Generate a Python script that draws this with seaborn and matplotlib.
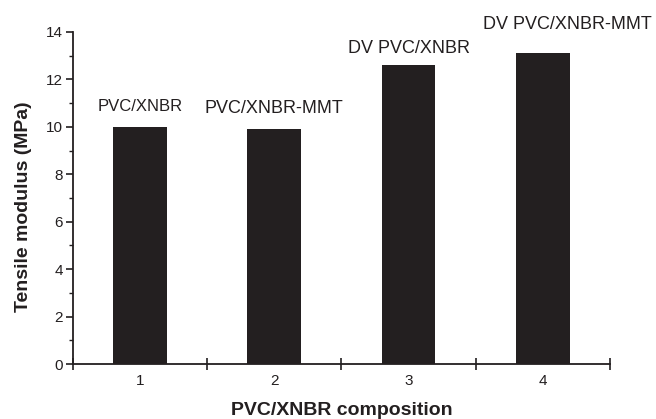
import matplotlib
matplotlib.use("Agg")
import matplotlib.pyplot as plt
import seaborn as sns
import pandas as pd
from matplotlib.ticker import FixedLocator, NullFormatter, MultipleLocator

compositions = ["1", "2", "3", "4"]
modulus = [10.0, 9.9, 12.6, 13.1]
bar_labels = ["PVC/XNBR", "PVC/XNBR-MMT", "DV PVC/XNBR", "DV PVC/XNBR-MMT"]

df = pd.DataFrame({"composition": compositions, "modulus": modulus})

sns.set_style("ticks")
plt.rcParams["font.family"] = ["Liberation Sans", "DejaVu Sans"]
ink = "#231f20"

fig = plt.figure(figsize=(6.56, 4.19), dpi=100)
ax = fig.add_axes([0.111, 0.131, 0.819, 0.793])

sns.barplot(data=df, x="composition", y="modulus", color=ink, width=0.4,
            saturation=1, ax=ax, edgecolor="none")

ax.set_xlim(-0.5, 3.5)
ax.set_ylim(0, 14)

ax.xaxis.set_major_locator(FixedLocator([-0.5, 0.5, 1.5, 2.5, 3.5]))
ax.xaxis.set_major_formatter(NullFormatter())
ax.xaxis.set_minor_locator(FixedLocator([0, 1, 2, 3]))
ax.set_xticklabels(compositions, minor=True)
ax.tick_params(axis="x", which="major", direction="inout", length=8, width=1.2, color=ink)
ax.tick_params(axis="x", which="minor", length=0, pad=7, labelsize=11, labelcolor=ink)

ax.yaxis.set_major_locator(MultipleLocator(2))
ax.yaxis.set_minor_locator(MultipleLocator(1))
ax.tick_params(axis="y", which="major", direction="out", length=5, width=1.2, color=ink,
               labelsize=11, labelcolor=ink, pad=2)
ax.tick_params(axis="y", which="minor", direction="out", length=3, width=1.0, color=ink)

for s in ["top", "right"]:
    ax.spines[s].set_visible(False)
for s in ["left", "bottom"]:
    ax.spines[s].set_linewidth(1.3)
    ax.spines[s].set_color(ink)

ax.set_xlabel("PVC/XNBR composition", fontsize=14, fontweight="bold", color=ink)
ax.set_ylabel("Tensile modulus (MPa)", fontsize=14, fontweight="bold", color=ink)
ax.xaxis.label.set_va("center")
ax.yaxis.label.set_va("center")
ax.xaxis.set_label_coords(0.5, -0.141)
ax.yaxis.set_label_coords(-0.092, 0.475)

offsets = [(0, 20), (0, 21), (0, 17), (24, 29)]
sizes = [12, 13, 13, 13]
for i, (lab, val) in enumerate(zip(bar_labels, modulus)):
    ax.annotate(lab, xy=(i, val), xytext=offsets[i], textcoords="offset pixels",
                ha="center", va="center", fontsize=sizes[i], color=ink,
                annotation_clip=False)

fig.savefig("out.png", dpi=100)
